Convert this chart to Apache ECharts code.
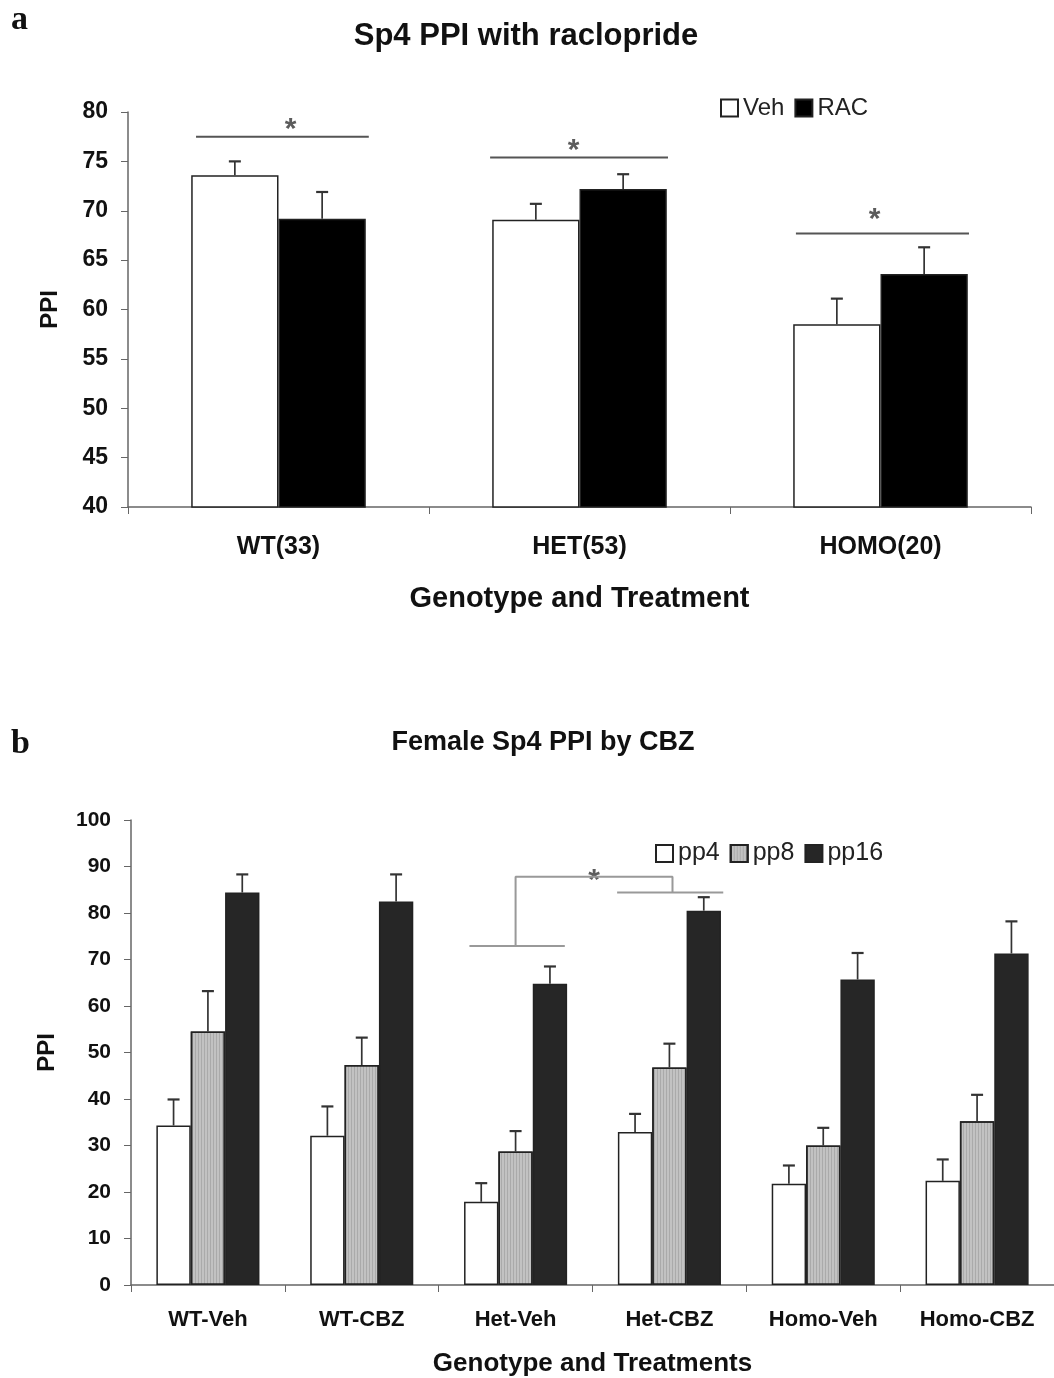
<!DOCTYPE html>
<html>
<head>
<meta charset="utf-8">
<script src="https://cdn.jsdelivr.net/npm/echarts@6/dist/echarts.min.js"></script>
<style>
html,body{margin:0;padding:0;background:#fff;}
#chart{width:1054px;height:1378px;}
</style>
</head>
<body>
<div id="chart"></div>
<script>
// ---- Panel a data ----
const topCats = ['WT(33)', 'HET(53)', 'HOMO(20)'];
const vehMean = [73.6, 69.1, 58.5];
const vehErr  = [1.4, 1.6, 2.6];
const racMean = [69.2, 72.2, 63.6];
const racErr  = [2.7, 1.5, 2.7];
const topYTicks = { min: 40, max: 80, interval: 5 };
// significance bars: [xStart, xEnd, y] in category units (0..3)
const topSigLines = [[0.226, 0.80, 77.5], [1.203, 1.794, 75.4], [2.219, 2.794, 67.7]];
const topStars = [[0.54, 79.0], [1.48, 76.9], [2.48, 69.9]];

// ---- Panel b data ----
const botCats = ['WT-Veh', 'WT-CBZ', 'Het-Veh', 'Het-CBZ', 'Homo-Veh', 'Homo-CBZ'];
const pp4Mean  = [34.3, 32.1, 17.9, 32.9, 21.8, 22.4];
const pp4Err   = [5.6, 6.3, 4.0, 3.9, 3.9, 4.6];
const pp8Mean  = [54.5, 47.3, 28.7, 46.8, 30.0, 35.2];
const pp8Err   = [8.7, 5.9, 4.4, 5.1, 3.8, 5.7];
const pp16Mean = [84.4, 82.5, 64.8, 80.5, 65.7, 71.3];
const pp16Err  = [3.9, 5.8, 3.7, 2.9, 5.7, 6.9];
const botYTicks = { min: 0, max: 100, interval: 10 };
// bracket polylines in category units (0..6)
const botBracket = [
  [[2.20, 72.9], [2.82, 72.9]],
  [[2.50, 72.9], [2.50, 87.8], [3.52, 87.8], [3.52, 84.4]],
  [[3.16, 84.4], [3.85, 84.4]]
];
const botStars = [[3.01, 88.7]];

const FONT = 'Liberation Sans, Arial, sans-serif';
const TOP_GAP = 0.42, BOT_GAP = 0.33;

function errRender(nSeries, gapFrac) {
  return function (params, api) {
    const ci = api.value(0), m = api.value(1), e = api.value(2), s = api.value(3);
    const base = api.coord([ci, m]);
    const band = api.size([1, 0])[0];
    const bw = band * (1 - gapFrac) / nSeries;
    const x = base[0] - band * (1 - gapFrac) / 2 + (s + 0.5) * bw;
    const top = api.coord([ci, m + e])[1];
    const st = { stroke: '#333', lineWidth: 1.7 };
    return {
      type: 'group',
      children: [
        { type: 'line', shape: { x1: x, y1: base[1], x2: x, y2: top }, style: st },
        { type: 'line', shape: { x1: x - 6, y1: top, x2: x + 6, y2: top }, style: { stroke: '#333', lineWidth: 2.2 } }
      ]
    };
  };
}
function errData(means, errs, s) {
  return means.map((m, i) => [i, m, errs[i], s]);
}

const axisLineStyle = { lineStyle: { color: '#666', width: 1.5 } };
const chart = echarts.init(document.getElementById('chart'));
const starLabel = { show: true, formatter: '*', position: 'inside', offset: [0, 8], fontSize: 30, fontWeight: 'bold', color: '#333', fontFamily: FONT };

const series = [];
// Panel a bars
series.push({
  name: 'Veh', type: 'bar', xAxisIndex: 0, yAxisIndex: 0, data: vehMean,
  barGap: '0%', barCategoryGap: (TOP_GAP * 100) + '%',
  itemStyle: { color: '#fff', borderColor: '#222', borderWidth: 1.5 }
});
series.push({
  name: 'RAC', type: 'bar', xAxisIndex: 0, yAxisIndex: 0, data: racMean,
  barGap: '0%', barCategoryGap: (TOP_GAP * 100) + '%',
  itemStyle: { color: '#000', borderColor: '#222', borderWidth: 1.5 }
});
series.push({ type: 'custom', xAxisIndex: 0, yAxisIndex: 0, renderItem: errRender(2, TOP_GAP), data: errData(vehMean, vehErr, 0), z: 5 });
series.push({ type: 'custom', xAxisIndex: 0, yAxisIndex: 0, renderItem: errRender(2, TOP_GAP), data: errData(racMean, racErr, 1), z: 5 });
topSigLines.forEach(l => {
  series.push({ type: 'line', xAxisIndex: 1, yAxisIndex: 0, data: [[l[0], l[2]], [l[1], l[2]]],
    symbol: 'none', lineStyle: { color: '#555', width: 2 }, silent: true });
});
series.push({ type: 'scatter', xAxisIndex: 1, yAxisIndex: 0, data: topStars, symbolSize: 0, label: starLabel });

// Panel b bars
const botColors = [
  { name: 'pp4', mean: pp4Mean, err: pp4Err, color: '#fff' },
  { name: 'pp8', mean: pp8Mean, err: pp8Err, color: '#c2c2c2',
    decal: { symbol: 'rect', symbolSize: 1, dashArrayX: [1, 2], dashArrayY: [4, 0], rotation: 0, color: 'rgba(0,0,0,0.12)' } },
  { name: 'pp16', mean: pp16Mean, err: pp16Err, color: '#262626' }
];
botColors.forEach((b, s) => {
  const is = { color: b.color, borderColor: '#222', borderWidth: 1.5 };
  if (b.decal) is.decal = b.decal;
  series.push({
    name: b.name, type: 'bar', xAxisIndex: 2, yAxisIndex: 1, data: b.mean,
    barGap: '0%', barCategoryGap: (BOT_GAP * 100) + '%',
    itemStyle: is
  });
});
botColors.forEach((b, s) => {
  series.push({ type: 'custom', xAxisIndex: 2, yAxisIndex: 1, renderItem: errRender(3, BOT_GAP), data: errData(b.mean, b.err, s), z: 5 });
});
botBracket.forEach(p => {
  series.push({ type: 'line', xAxisIndex: 3, yAxisIndex: 1, data: p,
    symbol: 'none', lineStyle: { color: '#999', width: 2 }, silent: true });
});
series.push({ type: 'scatter', xAxisIndex: 3, yAxisIndex: 1, data: botStars, symbolSize: 0, label: starLabel });

const option = {
  animation: false,
  backgroundColor: '#fff',
  textStyle: { fontFamily: FONT },
  grid: [
    { left: 128, top: 112, right: 23, bottom: 871 },
    { left: 131, top: 820, right: -10, bottom: 91 }
  ],
  legend: [
    { data: ['Veh', 'RAC'], left: 715, top: 91, icon: 'rect', itemWidth: 17, itemHeight: 17, itemGap: 10,
      textStyle: { fontSize: 24, color: '#222', fontFamily: FONT } },
    { data: ['pp4', 'pp8', 'pp16'], left: 650, top: 836, icon: 'rect', itemWidth: 17, itemHeight: 17, itemGap: 10,
      textStyle: { fontSize: 25, color: '#222', fontFamily: FONT } }
  ],
  xAxis: [
    { type: 'category', gridIndex: 0, data: topCats,
      axisLine: axisLineStyle, axisTick: { show: true, interval: 0, length: 7, lineStyle: { color: '#666' } },
      axisLabel: { interval: 0, fontSize: 25, fontWeight: 'bold', color: '#111', margin: 28 },
      name: 'Genotype and Treatment', nameLocation: 'middle', nameGap: 77,
      nameTextStyle: { fontSize: 29, fontWeight: 'bold', color: '#111' } },
    { type: 'value', gridIndex: 0, min: 0, max: 3, show: false },
    { type: 'category', gridIndex: 1, data: botCats,
      axisLine: axisLineStyle, axisTick: { show: true, interval: 0, length: 7, lineStyle: { color: '#666' } },
      axisLabel: { interval: 0, hideOverlap: false, fontSize: 22, fontWeight: 'bold', color: '#111', margin: 24 },
      name: 'Genotype and Treatments', nameLocation: 'middle', nameGap: 66,
      nameTextStyle: { fontSize: 26, fontWeight: 'bold', color: '#111' } },
    { type: 'value', gridIndex: 1, min: 0, max: 6, show: false }
  ],
  yAxis: [
    { type: 'value', gridIndex: 0, min: topYTicks.min, max: topYTicks.max, interval: topYTicks.interval,
      axisLine: { show: true, lineStyle: { color: '#666', width: 1.5 } },
      axisTick: { show: true, length: 7, lineStyle: { color: '#666' } },
      splitLine: { show: false },
      axisLabel: { fontSize: 23, fontWeight: 'bold', color: '#111', margin: 20 },
      name: 'PPI', nameLocation: 'middle', nameGap: 66,
      nameTextStyle: { fontSize: 24, fontWeight: 'bold', color: '#111' } },
    { type: 'value', gridIndex: 1, min: botYTicks.min, max: botYTicks.max, interval: botYTicks.interval,
      axisLine: { show: true, lineStyle: { color: '#666', width: 1.5 } },
      axisTick: { show: true, length: 7, lineStyle: { color: '#666' } },
      splitLine: { show: false },
      axisLabel: { fontSize: 21, fontWeight: 'bold', color: '#111', margin: 20 },
      name: 'PPI', nameLocation: 'middle', nameGap: 72,
      nameTextStyle: { fontSize: 24, fontWeight: 'bold', color: '#111' } }
  ],
  graphic: [
    { type: 'text', left: 11, top: 3, style: { text: 'a', font: 'bold 34px "Liberation Serif", "Times New Roman", serif', fill: '#111' } },
    { type: 'text', left: 11, top: 727, style: { text: 'b', font: 'bold 34px "Liberation Serif", "Times New Roman", serif', fill: '#111' } },
    { type: 'text', x: 526, y: 36, style: { text: 'Sp4 PPI with raclopride', textAlign: 'center', textVerticalAlign: 'middle', font: 'bold 31px ' + FONT, fill: '#111' } },
    { type: 'text', x: 543, y: 743, style: { text: 'Female Sp4 PPI by CBZ', textAlign: 'center', textVerticalAlign: 'middle', font: 'bold 27px ' + FONT, fill: '#111' } }
  ],
  series: series
};
chart.setOption(option);
</script>
</body>
</html>
